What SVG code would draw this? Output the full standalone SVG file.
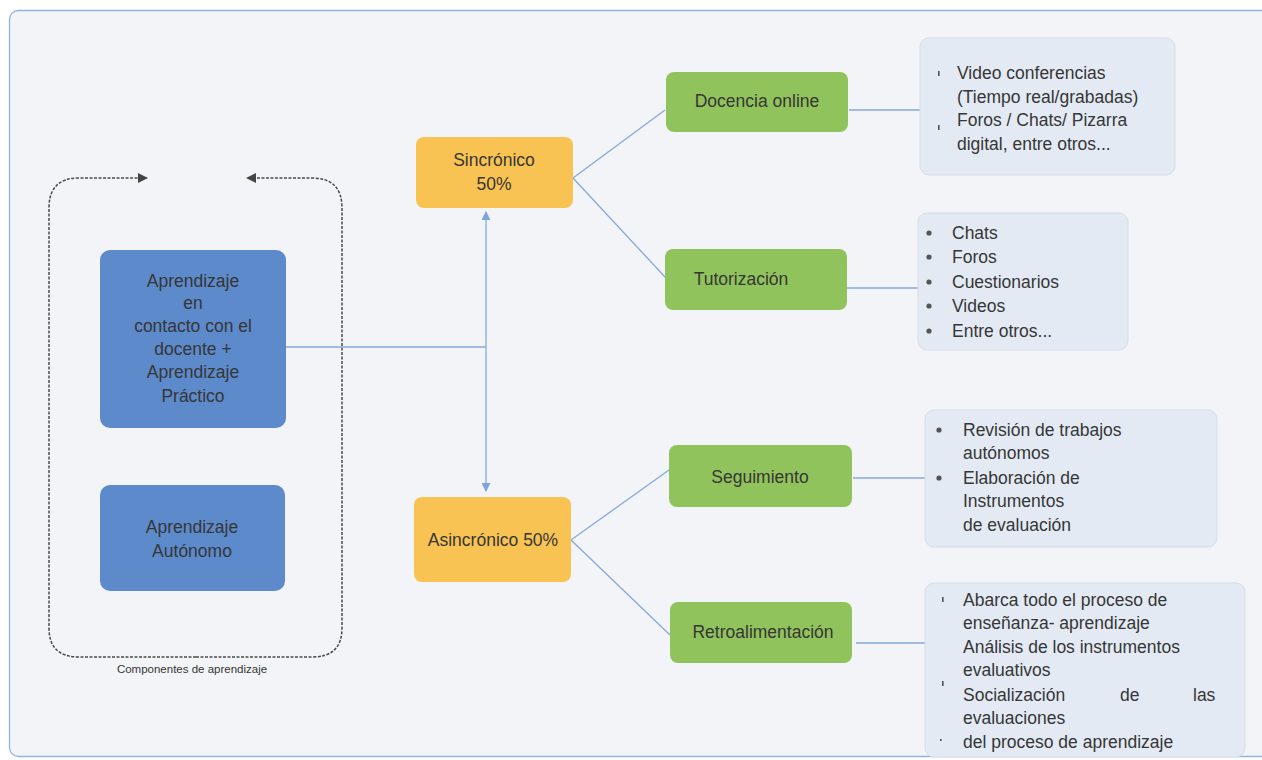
<svg xmlns="http://www.w3.org/2000/svg" width="1262" height="760" viewBox="0 0 1262 760">
<defs>
<style>
text{font-family:"Liberation Sans",Arial,sans-serif;fill:#363636;dominant-baseline:central}
.lbl{font-size:17.5px;text-anchor:middle}
.lst{font-size:17.5px}
.small{font-size:11.5px;text-anchor:middle}
.blue{fill:#5d8acb}
.orange{fill:#f8c352}
.green{fill:#91c35c}
.info{fill:#e3eaf3;stroke:#d6dee9;stroke-width:1}
.conn{stroke:#86a9dc;stroke-width:1.3;fill:none}
.dash{stroke:#4a4a4a;stroke-width:1.5;fill:none;stroke-dasharray:3 1.5}
.tick{fill:#555}
</style>
<marker id="ab" viewBox="0 0 10 10" refX="9" refY="5" markerWidth="9" markerHeight="9" markerUnits="userSpaceOnUse" orient="auto-start-reverse"><path d="M0,0 L10,5 L0,10 z" fill="#7fa3da"/></marker>
<marker id="ad" viewBox="0 0 10 10" refX="9" refY="5" markerWidth="10" markerHeight="10" markerUnits="userSpaceOnUse" orient="auto"><path d="M0,0 L10,5 L0,10 z" fill="#444"/></marker>
</defs>
<rect x="0" y="0" width="1262" height="760" fill="#ffffff"/>
<rect x="9.5" y="10.5" width="1270" height="746" rx="9" fill="#f2f4f7" stroke="#92b2e0" stroke-width="1.3"/>

<g id="container">
<path class="dash" d="M196,657 L79,657 Q49,657 49,628 L49,208 Q49,178 79,178 L147,178" marker-end="url(#ad)"/>
<path class="dash" d="M196,657 L312,657 Q342,657 342,628 L342,208 Q342,178 312,178 L247,178" marker-end="url(#ad)"/>
<text class="small" x="192" y="669">Componentes de aprendizaje</text>
</g>

<g id="connectors">
<line class="conn" x1="286" y1="347" x2="486" y2="347"/>
<line class="conn" x1="486" y1="212" x2="486" y2="491" marker-start="url(#ab)" marker-end="url(#ab)"/>
<line class="conn" x1="573" y1="178" x2="665" y2="110"/>
<line class="conn" x1="573" y1="178" x2="665" y2="277"/>
<line class="conn" x1="571" y1="540" x2="669" y2="470"/>
<line class="conn" x1="571" y1="540" x2="670" y2="635"/>
<line class="conn" x1="849" y1="110" x2="933" y2="110"/>
<line class="conn" x1="847" y1="288" x2="918" y2="288"/>
<line class="conn" x1="853" y1="478" x2="925" y2="478"/>
<line class="conn" x1="856" y1="643" x2="935" y2="643"/>
</g>

<g id="n-presencial">
<rect class="blue" x="100" y="250" width="186" height="178" rx="10"/>
<text class="lbl" x="193" y="281">Aprendizaje</text>
<text class="lbl" x="193" y="303">en</text>
<text class="lbl" x="193" y="326">contacto con el</text>
<text class="lbl" x="193" y="349">docente +</text>
<text class="lbl" x="193" y="372">Aprendizaje</text>
<text class="lbl" x="193" y="396">Práctico</text>
</g>

<g id="n-autonomo">
<rect class="blue" x="100" y="485" width="185" height="106" rx="10"/>
<text class="lbl" x="192" y="527">Aprendizaje</text>
<text class="lbl" x="192" y="551">Autónomo</text>
</g>

<g id="n-sincronico">
<rect class="orange" x="416" y="137" width="157" height="71" rx="8"/>
<text class="lbl" x="494" y="160">Sincrónico</text>
<text class="lbl" x="494" y="184">50%</text>
</g>

<g id="n-asincronico">
<rect class="orange" x="414" y="497" width="157" height="85" rx="8"/>
<text class="lbl" x="493" y="540">Asincrónico 50%</text>
</g>

<g id="n-docencia">
<rect class="green" x="666" y="72" width="182" height="60" rx="8"/>
<text class="lbl" x="757" y="101">Docencia online</text>
</g>

<g id="n-tutorizacion">
<rect class="green" x="665" y="249" width="182" height="61" rx="8"/>
<text class="lbl" x="741" y="279">Tutorización</text>
</g>

<g id="n-seguimiento">
<rect class="green" x="669" y="445" width="183" height="62" rx="8"/>
<text class="lbl" x="760" y="477">Seguimiento</text>
</g>

<g id="n-retro">
<rect class="green" x="670" y="602" width="182" height="61" rx="8"/>
<text class="lbl" x="763" y="632">Retroalimentación</text>
</g>

<g id="i-docencia">
<rect class="info" x="920" y="38" width="255" height="137" rx="9"/>
<rect class="tick" x="938" y="71" width="1.6" height="5"/>
<rect class="tick" x="938" y="125" width="1.6" height="5"/>
<text class="lst" x="957" y="73">Video conferencias</text>
<text class="lst" x="957" y="97">(Tiempo real/grabadas)</text>
<text class="lst" x="957" y="120">Foros / Chats/ Pizarra</text>
<text class="lst" x="957" y="144">digital, entre otros...</text>
</g>

<g id="i-tutorizacion">
<rect class="info" x="918" y="213" width="210" height="137" rx="9"/>
<circle class="tick" cx="929" cy="233" r="2.6"/>
<circle class="tick" cx="929" cy="257" r="2.6"/>
<circle class="tick" cx="929" cy="282" r="2.6"/>
<circle class="tick" cx="929" cy="306" r="2.6"/>
<circle class="tick" cx="929" cy="331" r="2.6"/>
<text class="lst" x="952" y="233">Chats</text>
<text class="lst" x="952" y="257">Foros</text>
<text class="lst" x="952" y="282">Cuestionarios</text>
<text class="lst" x="952" y="306">Videos</text>
<text class="lst" x="952" y="331">Entre otros...</text>
</g>

<g id="i-seguimiento">
<rect class="info" x="925" y="410" width="292" height="137" rx="9"/>
<circle class="tick" cx="939" cy="430" r="2.6"/>
<circle class="tick" cx="939" cy="478" r="2.6"/>
<text class="lst" x="963" y="430">Revisión de trabajos</text>
<text class="lst" x="963" y="453">autónomos</text>
<text class="lst" x="963" y="478">Elaboración de</text>
<text class="lst" x="963" y="501">Instrumentos</text>
<text class="lst" x="963" y="525">de evaluación</text>
</g>

<g id="i-retro">
<rect class="info" x="925" y="583" width="320" height="174" rx="9"/>
<rect class="tick" x="942" y="597" width="1.6" height="5"/>
<rect class="tick" x="942" y="681" width="1.6" height="5"/>
<rect class="tick" x="940" y="739" width="1.6" height="2"/>
<text class="lst" x="963" y="600">Abarca todo el proceso de</text>
<text class="lst" x="963" y="623">enseñanza- aprendizaje</text>
<text class="lst" x="963" y="647">Análisis de los instrumentos</text>
<text class="lst" x="963" y="670">evaluativos</text>
<text class="lst" y="695"><tspan x="963">Socialización</tspan><tspan x="1120">de</tspan><tspan x="1193">las</tspan></text>
<text class="lst" x="963" y="718">evaluaciones</text>
<text class="lst" x="963" y="742">del proceso de aprendizaje</text>
</g>
</svg>
